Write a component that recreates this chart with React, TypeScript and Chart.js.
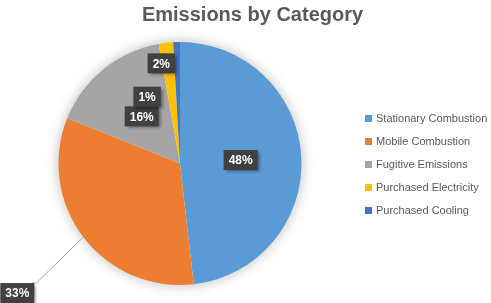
import React, { useEffect, useRef } from "react";
import { Chart, registerables } from "chart.js";

Chart.register(...registerables);

const titleText = "Emissions by Category";
const categories = [
  "Stationary Combustion",
  "Mobile Combustion",
  "Fugitive Emissions",
  "Purchased Electricity",
  "Purchased Cooling",
];
const values = [48.2, 32.9, 16.1, 1.9, 0.9];
const colors = ["#5B9BD5", "#ED7D31", "#A5A5A5", "#FFC000", "#4472C4"];

// label placement relative to each slice (style only)
const labelPlacement = [
  { r: 0.5, dx: 0, dy: 0, leader: false },
  { r: 1.0, dx: -66, dy: 56, leader: true },
  { r: 0.5, dx: 0, dy: 0, leader: false },
  { r: 0.83, dx: -7, dy: 0, leader: false },
  { r: 0.55, dx: -31, dy: 0, leader: false },
];

const FONT = "'Liberation Sans', Arial, sans-serif";
const TEXT_COLOR = "#595959";

const shadowPlugin = {
  id: "pieShadow",
  beforeDatasetsDraw(chart: any) {
    const meta = chart.getDatasetMeta(0);
    const arc = meta.data[0];
    if (!arc) return;
    const { x, y, outerRadius } = arc.getProps(["x", "y", "outerRadius"], true);
    const ctx = chart.ctx;
    ctx.save();
    ctx.shadowColor = "rgba(0,0,0,0.3)";
    ctx.shadowBlur = 14;
    ctx.fillStyle = "#ffffff";
    ctx.beginPath();
    ctx.arc(x, y, outerRadius - 1, 0, Math.PI * 2);
    ctx.fill();
    ctx.restore();
  },
};

const titleLegendPlugin = {
  id: "titleLegend",
  afterDraw(chart: any) {
    const ctx = chart.ctx;
    const area = chart.chartArea;
    ctx.save();
    // title
    ctx.font = "bold 20px " + FONT;
    ctx.fillStyle = TEXT_COLOR;
    ctx.textAlign = "center";
    ctx.textBaseline = "middle";
    ctx.fillText(titleText, chart.width / 2 + 7, 15);
    // legend
    const labels = chart.data.labels as string[];
    const bg = chart.data.datasets[0].backgroundColor as string[];
    const rowH = 23;
    const cy = (area.top + area.bottom) / 2 + 1;
    const y0 = cy - ((labels.length - 1) * rowH) / 2;
    const bx = area.right + 5;
    ctx.font = "11px " + FONT;
    ctx.textAlign = "left";
    labels.forEach((lab, i) => {
      const y = y0 + i * rowH;
      ctx.fillStyle = bg[i];
      ctx.fillRect(bx, y - 3.5, 7, 7);
      ctx.fillStyle = TEXT_COLOR;
      ctx.fillText(lab, bx + 11, y + 0.5);
    });
    ctx.restore();
  },
};

const labelPlugin = {
  id: "pctLabels",
  afterDatasetsDraw(chart: any) {
    const ctx = chart.ctx;
    const meta = chart.getDatasetMeta(0);
    const data = chart.data.datasets[0].data as number[];
    const total = data.reduce((a, b) => a + b, 0);
    meta.data.forEach((arc: any, i: number) => {
      const { x, y, startAngle, endAngle, outerRadius } = arc.getProps(
        ["x", "y", "startAngle", "endAngle", "outerRadius"],
        true
      );
      const mid = (startAngle + endAngle) / 2;
      const p = labelPlacement[i];
      const ax = x + Math.cos(mid) * outerRadius * p.r;
      const ay = y + Math.sin(mid) * outerRadius * p.r;
      const lx = ax + p.dx;
      const ly = ay + p.dy;
      const text = Math.round((data[i] / total) * 100) + "%";
      ctx.save();
      ctx.font = "bold 12px " + FONT;
      const tw = ctx.measureText(text).width;
      const w = tw + 10;
      const h = 20;
      if (p.leader) {
        ctx.strokeStyle = "#A6A6A6";
        ctx.lineWidth = 1;
        ctx.beginPath();
        ctx.moveTo(ax, ay);
        ctx.lineTo(lx + w / 2 + 2, ly - h / 2);
        ctx.lineTo(lx + w / 2 - 2, ly - h / 2);
        ctx.stroke();
      }
      ctx.shadowColor = "rgba(0,0,0,0.4)";
      ctx.shadowBlur = 3;
      ctx.shadowOffsetX = 2;
      ctx.shadowOffsetY = 2;
      ctx.fillStyle = "#404040";
      ctx.fillRect(lx - w / 2, ly - h / 2, w, h);
      ctx.shadowColor = "transparent";
      ctx.shadowBlur = 0;
      ctx.shadowOffsetX = 0;
      ctx.shadowOffsetY = 0;
      ctx.fillStyle = "#ffffff";
      ctx.textAlign = "center";
      ctx.textBaseline = "middle";
      ctx.fillText(text, lx, ly + 1);
      ctx.restore();
    });
  },
};

export default function App() {
  const ref = useRef<HTMLCanvasElement>(null);
  useEffect(() => {
    if (!ref.current) return;
    const chart = new Chart(ref.current, {
      type: "pie",
      data: {
        labels: categories,
        datasets: [
          {
            data: values,
            backgroundColor: colors,
            borderWidth: 0,
          },
        ],
      },
      options: {
        responsive: false,
        animation: false,
        layout: { padding: { top: 42, bottom: 18, left: 0, right: 131 } },
        plugins: {
          title: { display: false },
          legend: { display: false },
          tooltip: { enabled: false },
        },
      },
      plugins: [shadowPlugin, labelPlugin, titleLegendPlugin],
    });
    return () => chart.destroy();
  }, []);
  return (
    <div style={{ position: "absolute", left: 0, top: 0, width: 491, height: 303, background: "#fff" }}>
      <canvas ref={ref} width={491} height={303} />
    </div>
  );
}
